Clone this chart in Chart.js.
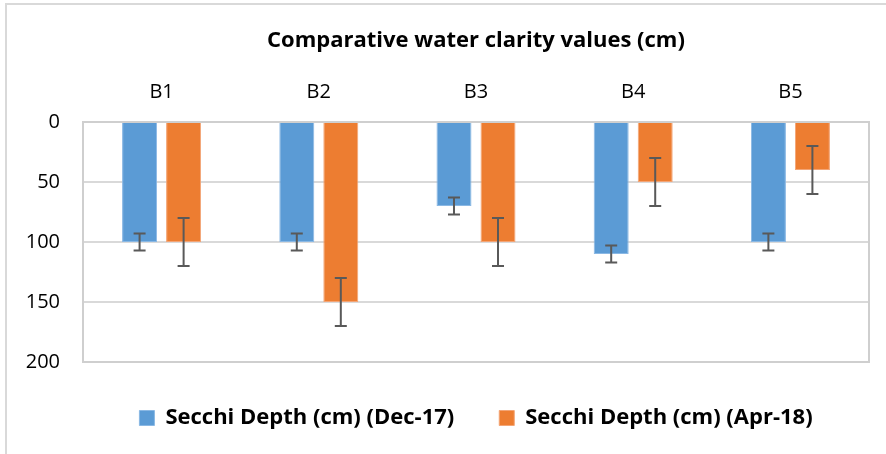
<!DOCTYPE html>
<html>
<head>
<meta charset="utf-8">
<script src="https://cdn.jsdelivr.net/npm/chart.js@4"></script>
<style>
  html, body { margin: 0; padding: 0; background: #ffffff; overflow: hidden; }
  #wrap { position: relative; width: 886px; height: 454px; }
  #frame { position: absolute; left: 5px; top: 3px; width: 1000px; height: 1000px;
           border-left: 2px solid #d9d9d9; border-top: 2px solid #d9d9d9; }
  canvas { position: absolute; left: 0; top: 0; }
</style>
</head>
<body>
<div id="wrap">
  <div id="frame"></div>
  <canvas id="c" width="886" height="454"></canvas>
</div>
<script>
const categories = ['B1', 'B2', 'B3', 'B4', 'B5'];
const dec17 = [100, 100, 70, 110, 100];
const apr18 = [100, 150, 100, 50, 40];
const dec17Err = [7, 7, 7, 7, 7];
const apr18Err = [20, 20, 20, 20, 20];
const seriesNames = ['Secchi Depth (cm) (Dec-17)', 'Secchi Depth (cm) (Apr-18)'];
const yMin = 0, yMax = 200, yStep = 50;
const titleText = 'Comparative water clarity values (cm)';

const FONT = "'Open Sans', 'Liberation Sans', sans-serif";

const frameBorder = {
  id: 'frameBorder',
  beforeDatasetsDraw(chart) {
    const { ctx, chartArea: a } = chart;
    ctx.save();
    ctx.strokeStyle = '#cfcfcf';
    ctx.lineWidth = 2;
    ctx.strokeRect(a.left, a.top, a.right - a.left, a.bottom - a.top);
    ctx.restore();
  }
};

const errorBars = {
  id: 'errorBars',
  afterDatasetsDraw(chart) {
    const { ctx } = chart;
    const y = chart.scales.y;
    ctx.save();
    ctx.strokeStyle = '#595959';
    ctx.lineWidth = 2;
    chart.data.datasets.forEach((ds, di) => {
      const meta = chart.getDatasetMeta(di);
      meta.data.forEach((bar, i) => {
        const v = ds.data[i], e = ds.errors[i];
        const x = bar.x;
        const y1 = y.getPixelForValue(v - e);
        const y2 = y.getPixelForValue(v + e);
        const cw = 6;
        ctx.beginPath();
        ctx.moveTo(x, y1); ctx.lineTo(x, y2);
        ctx.moveTo(x - cw, y1); ctx.lineTo(x + cw, y1);
        ctx.moveTo(x - cw, y2); ctx.lineTo(x + cw, y2);
        ctx.stroke();
      });
    });
    ctx.restore();
  }
};

new Chart(document.getElementById('c'), {
  type: 'bar',
  data: {
    labels: categories,
    datasets: [
      { label: seriesNames[0], data: dec17, errors: dec17Err,
        backgroundColor: '#5b9bd5', borderColor: '#8ab8e4', borderWidth: 1,
        barPercentage: 0.795, categoryPercentage: 0.56 },
      { label: seriesNames[1], data: apr18, errors: apr18Err,
        backgroundColor: '#ed7d31', borderColor: '#f3a576', borderWidth: 1,
        barPercentage: 0.795, categoryPercentage: 0.56 }
    ]
  },
  options: {
    responsive: false,
    animation: false,
    devicePixelRatio: 1,
    layout: { padding: { left: 0, right: 17, top: 0, bottom: 15 } },
    plugins: {
      title: {
        display: true, text: titleText, fullSize: false,
        color: '#000000',
        font: { family: FONT, size: 22, weight: 'bold' },
        padding: { top: 27.8, bottom: 0 }
      },
      legend: {
        display: true, position: 'bottom', fullSize: false,
        labels: {
          color: '#000000',
          font: { family: FONT, size: 22, weight: 'bold' },
          boxWidth: 15, boxHeight: 15, padding: 45
        }
      },
      tooltip: { enabled: false }
    },
    scales: {
      x: {
        position: 'top',
        grid: { display: false, drawTicks: false },
        border: { display: false },
        ticks: { color: '#000000', font: { family: FONT, size: 20 }, padding: 18 },
        afterFit(s) { s.height = 67.8; }
      },
      y: {
        reverse: true, min: yMin, max: yMax,
        grid: { color: '#d9d9d9', lineWidth: 2, drawTicks: false },
        border: { display: false },
        ticks: { stepSize: yStep, color: '#000000', font: { family: FONT, size: 20 }, padding: 23 },
        afterFit(s) { s.width = 83; }
      }
    }
  },
  plugins: [frameBorder, errorBars]
});
</script>
</body>
</html>
